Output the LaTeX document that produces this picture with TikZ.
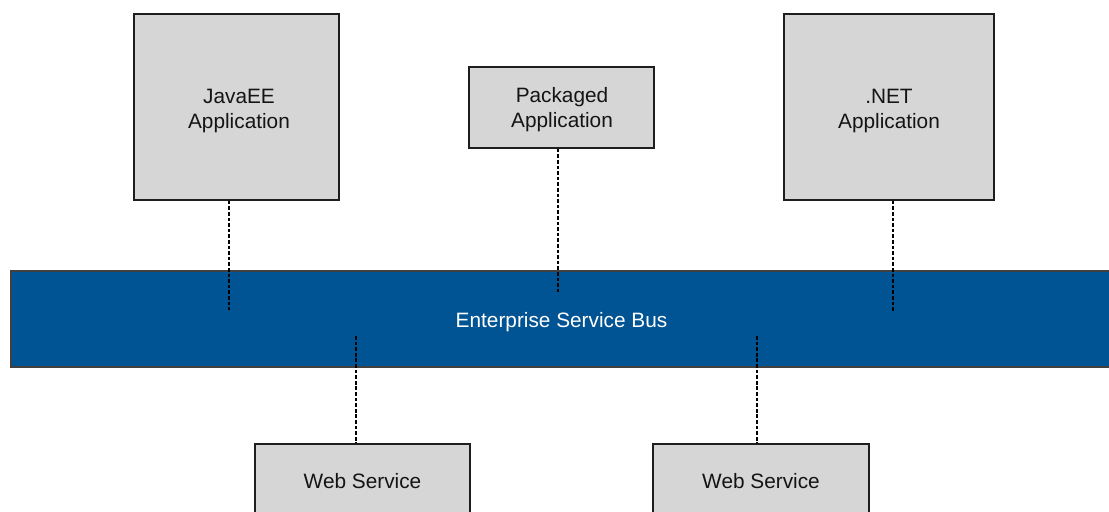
\documentclass[tikz,border=0pt]{standalone}
\usepackage{fontspec}
\setmainfont{Liberation Sans}
\definecolor{boxgray}{RGB}{214,214,214}
\definecolor{busblue}{RGB}{0,84,147}
\definecolor{edge}{RGB}{30,30,30}
\definecolor{ink}{RGB}{20,20,20}
\begin{document}
\begin{tikzpicture}[x=0.75pt,y=-0.75pt,
  appbox/.style={draw=edge,line width=1.1pt,fill=boxgray,inner sep=0pt},
  busbox/.style={draw=edge!85!white,line width=1pt,fill=busblue,inner sep=0pt},
  lbl/.style={align=center,inner sep=0pt,text=ink,font=\fontsize{15.6}{18.9}\selectfont},
  link/.style={line width=1.2pt,dash pattern=on 2.8pt off 1.4pt,draw=black}]
\useasboundingbox (0,0) rectangle (1109,511);
\clip (0,0) rectangle (1109,511);

% application boxes along the top
\node[appbox,minimum width=153.75pt,minimum height=139.5pt] (java) at (236.5,107) {};
\node[appbox,minimum width=138.75pt,minimum height=60.75pt] (pkg) at (561.5,107.5) {};
\node[appbox,minimum width=157.5pt,minimum height=139.5pt] (net) at (889,107) {};
\node[lbl] (javatxt) at (239,111) {JavaEE\\Application};
\node[lbl] (pkgtxt) at (562,110) {Packaged\\Application};
\node[lbl] (nettxt) at (889,111) {.NET\\Application};

% the bus
\node[busbox,minimum width=839.25pt,minimum height=72pt] (esb) at (570.5,319) {};
\node[lbl,text=white] (esbtxt) at (561.5,322) {Enterprise Service Bus};

% service boxes below the bus
\node[appbox,minimum width=161.25pt,minimum height=72pt] (ws1) at (362.5,492) {};
\node[appbox,minimum width=162pt,minimum height=72pt] (ws2) at (761,492) {};
\node[lbl,anchor=base] (ws1txt) at (362.5,488) {Web Service};
\node[lbl,anchor=base] (ws2txt) at (761,488) {Web Service};

% attachment points inside the bus
\coordinate (javaend) at (229,310);
\coordinate (pkgend) at (558,293);
\coordinate (netend) at (893,311);
\coordinate (ws1end) at (356,336);
\coordinate (ws2end) at (757,336);

% dashed connections
\draw[link] (java.south -| javaend) -- (javaend);
\draw[link] (pkg.south -| pkgend) -- (pkgend);
\draw[link] (net.south -| netend) -- (netend);
\draw[link] (ws1end) -- (ws1.north -| ws1end);
\draw[link] (ws2end) -- (ws2.north -| ws2end);
\end{tikzpicture}
\end{document}
